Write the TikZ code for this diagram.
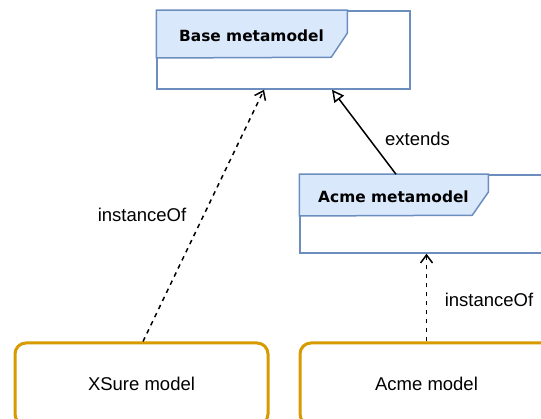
\documentclass[tikz,border=0pt]{standalone}
\usepackage{fontspec}
\setmainfont{Liberation Sans}
\newfontfamily\titlefont{DejaVu Sans}
\usetikzlibrary{arrows.meta,calc}
\definecolor{frameblue}{HTML}{6C8EBF}
\definecolor{tabfill}{HTML}{DAE8FC}
\definecolor{boxorange}{HTML}{D79B00}
\begin{document}
\begin{tikzpicture}[x=1pt,y=-1pt,
  frame/.style={draw=frameblue,line width=1.5pt,fill=white,minimum width=253pt,minimum height=78pt,inner sep=0pt},
  tab/.style={draw=frameblue,line width=1.5pt,fill=tabfill,line join=miter},
  titletext/.style={font=\titlefont\bfseries\fontsize{15.4}{18}\selectfont,inner sep=0pt},
  modelbox/.style={draw=boxorange,line width=3pt,fill=white,rounded corners=11pt,minimum width=253pt,minimum height=82pt,inner sep=0pt,font=\fontsize{18.5}{22}\selectfont},
  lbl/.style={font=\fontsize{18.5}{22}\selectfont,inner sep=0pt},
  inst/.style={draw=black,line width=1.5pt,dash pattern=on 4.5pt off 4.5pt,-{Straight Barb[length=8pt,width=12pt,line width=1.5pt]}},
  ext/.style={draw=black,line width=1.5pt,-{Triangle[open,length=12pt,width=12pt,fill=white,line width=1.5pt]}}
]
\useasboundingbox (0,0) rectangle (541,419);
\clip (0,0) rectangle (541,419);
% frames
\node[frame] (base) at (283.5,50) {};
\draw[tab] (base.north west) -- ++(191,0) -- ++(0,23) -- ++(-16,24) -- (base.west |- 0,58) -- cycle;
\node[titletext] (basetitle) at (251.5,35.5) {Base metamodel};
\node[frame] (acmemeta) at (426.5,214) {};
\draw[tab] (acmemeta.north west) -- ++(189,0) -- ++(0,18) -- ++(-16,23) -- (acmemeta.west |- 0,216) -- cycle;
\node[titletext] (acmetitle) at (393.5,196.5) {Acme metamodel};
% models
\node[modelbox] (xsure) at (141.5,384) {XSure model};
\node[modelbox] (acmemodel) at (426.5,384) {Acme model};
% connectors
\draw[inst] ($(xsure.north)+(1.5,0)$) -- ($(base.south)+(-19.5,0)$);
\draw[ext] ($(acmemeta.north)+(-30.5,0)$) -- ($(base.south)+(48.5,0)$);
\draw[inst] (acmemodel.north) -- (acmemeta.south);
% labels
\node[lbl] (l1) at (142,215) {instanceOf};
\node[lbl] (l2) at (417.5,138.5) {extends};
\node[lbl] (l3) at (489,299.5) {instanceOf};
\end{tikzpicture}
\end{document}
